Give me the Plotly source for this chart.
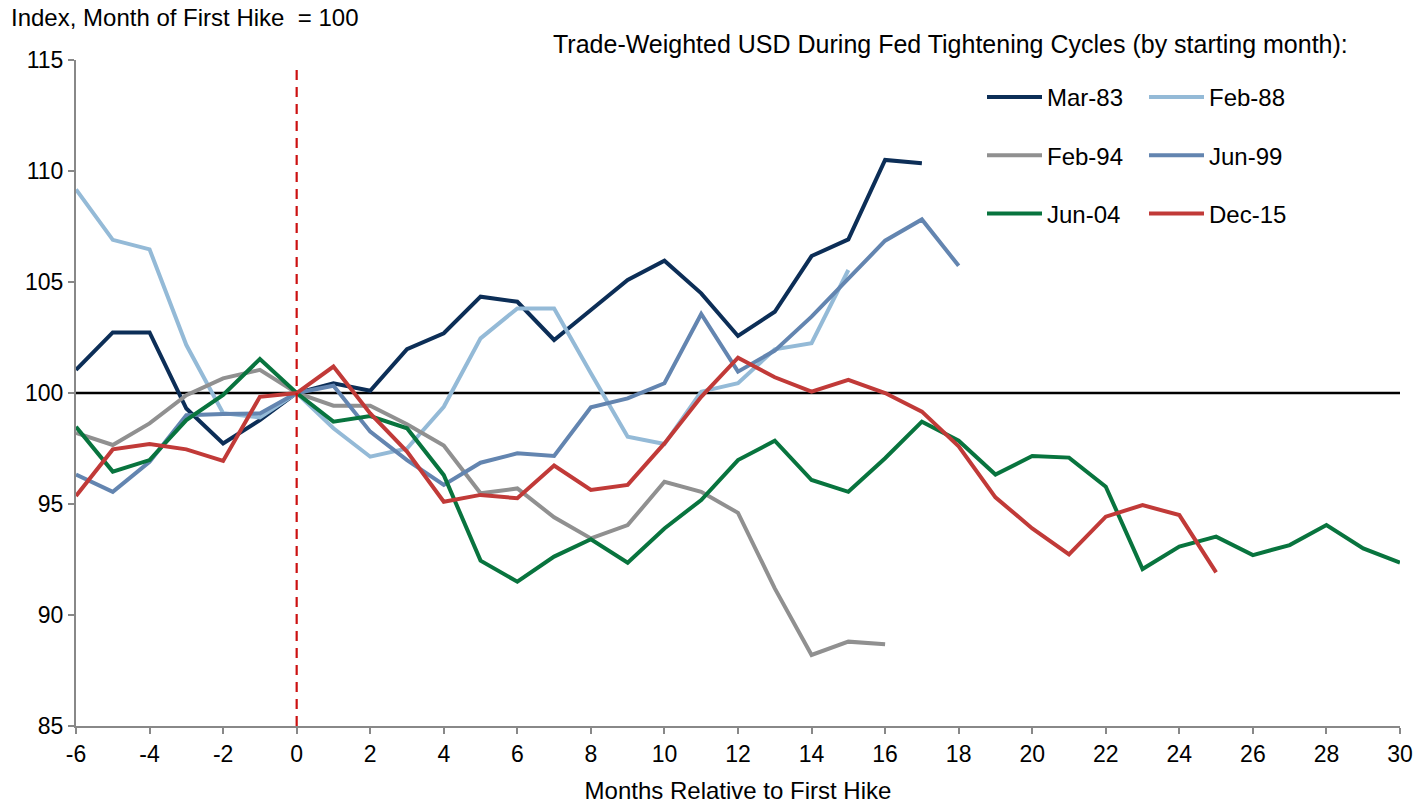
import plotly.graph_objects as go

# ---- data (months relative to first hike, index = 100 at month 0) ----
start_month = -6
mar83 = [101.04, 102.73, 102.73, 99.30, 97.73, 98.78, 100.0, 100.44, 100.10, 101.97,
         102.69, 104.34, 104.11, 102.39, 103.74, 105.09, 105.96, 104.49, 102.57, 103.66,
         106.17, 106.92, 110.50, 110.35]
feb88 = [109.17, 106.90, 106.47, 102.16, 99.09, 98.90, 100.0, 98.41, 97.13, 97.50,
         99.38, 102.46, 103.81, 103.81, 100.89, 98.03, 97.70, 100.06, 100.44, 101.97,
         102.24, 105.54]
feb94 = [98.20, 97.66, 98.63, 99.90, 100.66, 101.04, 100.0, 99.43, 99.43, 98.59,
         97.63, 95.48, 95.70, 94.40, 93.45, 94.05, 96.00, 95.55, 94.60, 91.20,
         88.20, 88.80, 88.68]
jun99 = [96.33, 95.55, 96.90, 99.00, 99.05, 99.08, 100.0, 100.33, 98.26, 96.98,
         95.86, 96.86, 97.28, 97.16, 99.36, 99.76, 100.44, 103.56, 100.96, 101.91,
         103.44, 105.12, 106.86, 107.82, 105.73]
jun04 = [98.48, 96.46, 96.98, 98.78, 99.91, 101.53, 100.0, 98.71, 98.96, 98.41,
         96.30, 92.45, 91.50, 92.63, 93.41, 92.36, 93.90, 95.18, 96.98, 97.85,
         96.08, 95.55, 97.06, 98.71, 97.85, 96.33, 97.16, 97.09, 95.78, 92.07,
         93.08, 93.53, 92.70, 93.15, 94.05, 93.00, 92.36]
dec15 = [95.36, 97.46, 97.70, 97.46, 96.94, 99.83, 100.0, 101.19, 99.08, 97.36,
         95.10, 95.41, 95.26, 96.73, 95.63, 95.86, 97.73, 99.83, 101.59, 100.71,
         100.06, 100.59, 100.00, 99.16, 97.60, 95.30, 93.90, 92.73, 94.43, 94.95,
         94.50, 91.92]

series_names = ["Mar-83", "Feb-88", "Feb-94", "Jun-99", "Jun-04", "Dec-15"]
series_values = [mar83, feb88, feb94, jun99, jun04, dec15]
series_colors = ["#0C2E57", "#94BAD7", "#909090", "#6385B0", "#08743E", "#C13A38"]
series_legend = ["legend", "legend2", "legend", "legend2", "legend", "legend2"]

x_ticks = list(range(-6, 31, 2))
x_ticktext = [str(v) for v in x_ticks]  # plain hyphen-minus as in the source
y_ticks = [85, 90, 95, 100, 105, 110, 115]

FONT = "Liberation Sans, Arial, sans-serif"
W, H = 1419, 804
PL, PR, PT, PB = 76, 1400, 60, 726          # plot area in page pixels
ML, MR, MT, MB = PL, W - PR, PT, H - PB

fig = go.Figure()
for name, vals, col, lg in zip(series_names, series_values, series_colors, series_legend):
    months = list(range(start_month, start_month + len(vals)))
    fig.add_trace(go.Scatter(
        x=months, y=vals, mode="lines", name=name,
        line=dict(color=col, width=4),
        legend=lg, legendgroup=name,
    ))

# reference lines
fig.add_shape(type="line", xref="x", yref="y", x0=-6, x1=30, y0=100, y1=100,
              line=dict(color="black", width=2.4), layer="below")
fig.add_shape(type="line", xref="x", yref="y", x0=0, x1=0, y0=85, y1=114.7,
              line=dict(color="#CC1111", width=2.2, dash="10px,7px"), layer="above")

def px_x(p):
    return (p - PL) / (PR - PL)

def px_y(p):
    return (PB - p) / (PB - PT)

fig.add_annotation(text="Index, Month of First Hike  = 100", xref="paper", yref="paper",
                   x=px_x(9), y=px_y(18), xanchor="left", yanchor="middle",
                   showarrow=False, font=dict(family=FONT, size=24, color="black"))
fig.add_annotation(text="Trade-Weighted USD During Fed Tightening Cycles (by starting month):",
                   xref="paper", yref="paper", x=px_x(551), y=px_y(44),
                   xanchor="left", yanchor="middle", showarrow=False,
                   font=dict(family=FONT, size=25, color="black"))

legend_common = dict(orientation="v", font=dict(family=FONT, size=24, color="black"),
                     bgcolor="rgba(0,0,0,0)", borderwidth=0, tracegroupgap=24,
                     itemwidth=55, xanchor="left", yanchor="top")
fig.update_layout(
    width=W, height=H,
    margin=dict(l=ML, r=MR, t=MT, b=MB),
    paper_bgcolor="white", plot_bgcolor="white",
    font=dict(family=FONT, size=23, color="black"),
    showlegend=True,
    legend=dict(x=px_x(982), y=px_y(75), **legend_common),
    legend2=dict(x=px_x(1144), y=px_y(75), **legend_common),
    xaxis=dict(range=[-6, 30], tickmode="array", tickvals=x_ticks, ticktext=x_ticktext,
               automargin=False,
               showgrid=False, zeroline=False, showline=True, linecolor="#888888",
               linewidth=2, ticks="outside", ticklen=6, tickcolor="#888888", tickwidth=2,
               tickfont=dict(family=FONT, size=23, color="black"),
               title=dict(text="Months Relative to First Hike", standoff=19,
                          font=dict(family=FONT, size=24, color="black"))),
    yaxis=dict(range=[85, 115], tickmode="array", tickvals=y_ticks,
               automargin=False,
               showgrid=False, zeroline=False, showline=True, linecolor="#888888",
               linewidth=2, ticks="outside", ticklen=6, tickcolor="#888888", tickwidth=2,
               tickfont=dict(family=FONT, size=23, color="black")),
)

# remove the browser's default 8px body margin so the figure fills the window exactly
fig.write_html("out.html", config={"displayModeBar": False},
               post_script="document.body.style.margin='0px';")
